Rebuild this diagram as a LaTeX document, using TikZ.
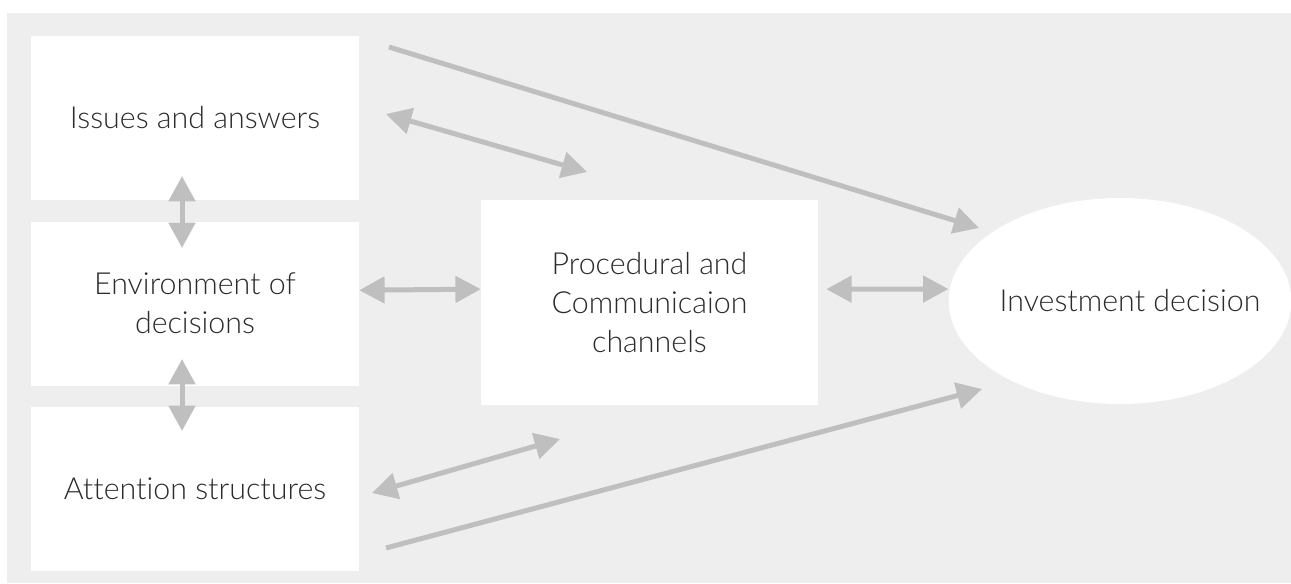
\documentclass[tikz,border=0pt]{standalone}
\usepackage{fontspec}
\setmainfont{Lato}[UprightFont={* Light},Ligatures=NoCommon]
\usepackage{tikz}
\usetikzlibrary{arrows.meta}
\usetikzlibrary{shapes.geometric}
\usetikzlibrary{positioning}

\definecolor{panelgray}{HTML}{EEEEEE}
\definecolor{arrowgray}{HTML}{BFBFBF}
\definecolor{labelgray}{HTML}{2B2B2B}

\begin{document}
\begin{tikzpicture}
    [
    x=0.75pt,y=-0.75pt,
    box/.style={fill=white,minimum width=246pt,minimum height=123pt,inner sep=0pt,
      align=center,text=labelgray,font=\fontsize{22.8}{29}\selectfont},
    decision/.style={ellipse,fill=white,minimum width=257pt,minimum height=154.5pt,inner sep=0pt},
    flow/.style={draw=arrowgray,line width=3.75pt,-{Triangle[length=19pt,width=19.5pt]}},
    twoway/.style={flow,{Triangle[length=19pt,width=19.5pt]}-{Triangle[length=19pt,width=19.5pt]}},
    ]
    \fill [white] (0,0) rectangle (1291,583);
    \fill [panelgray] (7,13) rectangle (1291,583);
    \useasboundingbox (0,0) rectangle (1291,583);

    \node (issues) at (195,118) [box] {Issues and answers};
    \node (env) [box,below=15.75pt of issues] {Environment of\\decisions};
    \node (attn) [box,below=15.75pt of env] {Attention structures};
    \node (proc) at (649.5,302.5) [box,minimum width=252.75pt,minimum height=153.75pt]
      {Procedural and\\Communicaion\\channels};
    \node (inv) at (1120,301) [decision,
      label={[text=labelgray,font=\fontsize{22.8}{29}\selectfont,xshift=7.5pt]center:Investment decision}] {};

    \coordinate (s1) at (389,47);
    \coordinate (t1) at (979,228);
    \coordinate (a1) at (386,114);
    \coordinate (b1) at (587,172);
    \coordinate (a2) at (372,493);
    \coordinate (b2) at (560,439);
    \coordinate (s2) at (386,548);
    \coordinate (t2) at (982,389);
    \coordinate (v1) at (182,176);
    \coordinate (w1) at (182,248);
    \coordinate (v2) at (182,359);
    \coordinate (w2) at (182,431);

    \draw [flow] (s1) to (t1);
    \draw [flow] (s2) to (t2);
    \draw [twoway] (a1) to (b1);
    \draw [twoway] (a2) to (b2);
    \draw [twoway] (v1) to (w1);
    \draw [twoway] (v2) to (w2);
    \draw [twoway] ([yshift=10pt]env.east) to ([yshift=10pt]proc.west);
    \draw [twoway] ([xshift=6pt,yshift=10pt]proc.east) to ([yshift=9pt]inv.west);
  \end{tikzpicture}
\end{document}
